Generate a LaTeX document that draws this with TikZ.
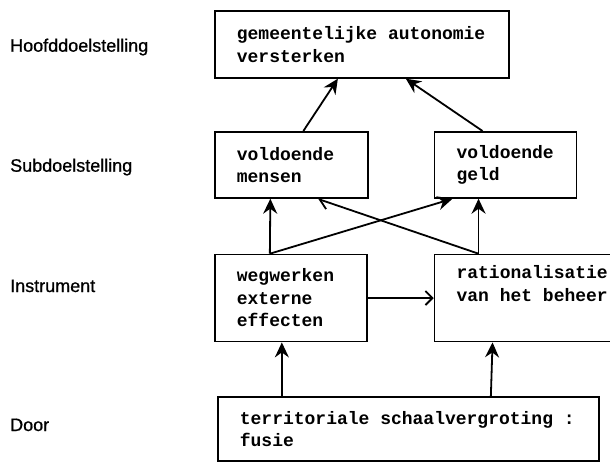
\documentclass[tikz,border=0pt]{standalone}
\usepackage{fontspec}
\setmainfont{Liberation Sans}
\setmonofont{Liberation Mono}
\newfontfamily\niveaufont{Liberation Sans}[FakeBold=0.8]
\usetikzlibrary{positioning,arrows.meta}
\newcommand{\doelfont}{\ttfamily\bfseries\fontsize{18}{22.5}\selectfont}

\begin{document}
\begin{tikzpicture}[x=1pt,y=-1pt,
    doel/.style={draw, line width=1.7pt, align=left, inner xsep=22pt, font=\doelfont,
      execute at begin node={\spaceskip=10.8pt\relax}},
    niveau/.style={anchor=base west, inner sep=0pt, font=\niveaufont\fontsize{18}{21}\selectfont},
    pijl/.style={line width=1.8pt, -{Stealth[length=15pt,width=14pt,inset=5pt]}}]
  \clip (0,0) rectangle (610,461);

  \node [niveau] (hoofdniveau) at (10,51.7) {Hoofddoelstelling};
  \node [niveau] (subniveau) at (10,171.7) {Subdoelstelling};
  \node [niveau] (instrniveau) at (10,292) {Instrument};
  \node [niveau] (doorniveau) at (10,431) {Door};

  \node [doel, anchor=north west, text width=250pt, minimum height=67pt] (hoofd) at (214,10) {gemeentelijke autonomie\\versterken};
  \node [doel, anchor=north west, text width=109pt, minimum height=66pt] (mensen) at (214,131) {voldoende\\mensen};
  \node [doel, right=65pt of mensen, text width=98pt, minimum height=66pt] (geld) {voldoende\\geld};
  \node [doel, below right=55pt and 0pt of mensen.south west, text width=108pt, minimum height=87pt] (wegwerken) {wegwerken\\externe\\effecten};
  \node [doel, below right=55pt and 0pt of geld.south west, text width=152pt, minimum height=87pt] (beheer) {rationalisatie\\van het beheer\\\strut};
  \node [doel, below right=54pt and 3pt of wegwerken.south west, text width=337pt, minimum height=64pt] (fusie) {territoriale schaalvergroting :\\fusie};

  \draw [pijl] ([xshift=12pt]mensen.north) -- ([xshift=-24pt]hoofd.south);
  \draw [pijl] ([xshift=-23pt]geld.north) -- ([xshift=44pt]hoofd.south);
  \draw [pijl] ([xshift=-21pt]wegwerken.north) -- ([xshift=-21pt]mensen.south);
  \draw [pijl] ([xshift=-21pt]wegwerken.north) -- ([xshift=-53pt]geld.south);
  \draw [line width=1.8pt, -{Straight Barb[left,length=9pt,width=14pt]}] ([xshift=-54pt]beheer.north) -- ([xshift=26pt]mensen.south);
  \draw [pijl] ([xshift=-54pt]beheer.north) -- ([xshift=-27pt]geld.south);
  \draw [line width=1.8pt, -{Straight Barb[length=7pt,width=14pt]}] (wegwerken.east) -- (wegwerken.east -| beheer.west);
  \draw [pijl] ([xshift=-126.5pt]fusie.north) -- ([xshift=-9pt]wegwerken.south);
  \draw [pijl] ([xshift=82.5pt]fusie.north) -- ([xshift=-40pt]beheer.south);
\end{tikzpicture}
\end{document}
